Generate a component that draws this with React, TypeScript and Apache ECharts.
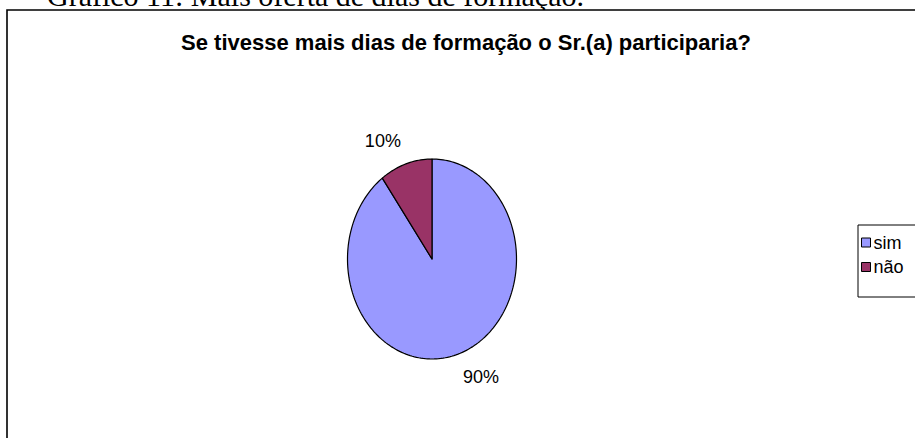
import React, { useEffect, useRef } from "react";
import * as echarts from "echarts";

const categories = ["sim", "não"];
const values = [90, 10];
const sliceColors = ["#9999FF", "#993366"];
const chartTitle = "Se tivesse mais dias de formação o Sr.(a) participaria?";
const captionText = "Gráfico 11: Mais oferta de dias de formação.";

const CX = 432;
const CY = 259;
const RX = 84.5;
const RY = 100;

export default function App() {
  const ref = useRef<HTMLDivElement | null>(null);

  useEffect(() => {
    if (!ref.current) return;
    const chart = echarts.init(ref.current, null, { renderer: "svg" });
    const total = values.reduce((a, b) => a + b, 0);
    const starts: number[] = [];
    let acc = 0;
    values.forEach((v) => {
      starts.push(acc);
      acc += v;
    });

    const renderItem = (params: any, api: any) => {
      const v = api.value(0);
      const s = api.value(1);
      const a0 = (s / total) * Math.PI * 2;
      const a1 = ((s + v) / total) * Math.PI * 2;
      const n = Math.max(4, Math.ceil(((a1 - a0) / (Math.PI * 2)) * 240));
      const pts: number[][] = [[CX, CY]];
      for (let i = 0; i <= n; i++) {
        const a = a0 + ((a1 - a0) * i) / n;
        pts.push([CX + RX * Math.sin(a), CY - RY * Math.cos(a)]);
      }
      const am = (a0 + a1) / 2;
      const ex = CX + RX * Math.sin(am);
      const ey = CY - RY * Math.cos(am);
      const lx = ex + Math.sign(Math.sin(am)) * 23;
      const ly = ey + Math.sign(-Math.cos(am)) * 23;
      const pct = Math.round((v / total) * 100) + "%";
      return {
        type: "group",
        children: [
          {
            type: "polygon",
            shape: { points: pts },
            style: {
              fill: api.visual("color"),
              stroke: "#000",
              lineWidth: 1.2,
              lineJoin: "round",
            },
          },
          {
            type: "text",
            x: lx,
            y: ly,
            style: {
              text: pct,
              fill: "#000",
              font: "18px 'Liberation Sans', Arial, sans-serif",
              align: "center",
              verticalAlign: "middle",
            },
          },
        ],
      };
    };

    const series = categories.map((name, i) => ({
      type: "custom",
      name,
      coordinateSystem: "none",
      renderItem,
      itemStyle: { color: sliceColors[i] },
      data: [[values[i], starts[i]]],
      z: 3,
    }));

    chart.setOption({
      animation: false,
      backgroundColor: "#fff",
      graphic: [
        {
          type: "text",
          x: 47,
          y: -4.5,
          z: 0,
          style: {
            text: captionText,
            fill: "#000",
            font: "30px 'Liberation Serif', 'Times New Roman', serif",
            verticalAlign: "middle",
          },
        },
        {
          type: "rect",
          z: 1,
          shape: { x: 7, y: 10, width: 1200, height: 1000 },
          style: { fill: "#fff", stroke: "#000", lineWidth: 1.6 },
        },
        {
          type: "text",
          x: 466,
          y: 42,
          z: 5,
          style: {
            text: chartTitle,
            fill: "#000",
            font: "bold 22px 'Liberation Sans', Arial, sans-serif",
            align: "center",
            verticalAlign: "middle",
          },
        },
      ],
      legend: {
        orient: "vertical",
        left: 858,
        top: 225,
        padding: [8.5, 60, 21, 3],
        itemGap: 6.5,
        itemWidth: 9,
        itemHeight: 9,
        icon: "rect",
        borderColor: "#000",
        borderWidth: 1,
        backgroundColor: "#fff",
        itemStyle: { borderColor: "#000", borderWidth: 1 },
        textStyle: {
          color: "#000",
          fontSize: 18,
          lineHeight: 18,
          fontFamily: "'Liberation Sans', Arial, sans-serif",
          padding: [0, 0, 0, -2],
        },
        data: categories,
        selectedMode: false,
      },
      series,
    });
    return () => chart.dispose();
  }, []);

  return (
    <div
      ref={ref}
      style={{ position: "fixed", left: 0, top: 0, width: 915, height: 438 }}
    />
  );
}
